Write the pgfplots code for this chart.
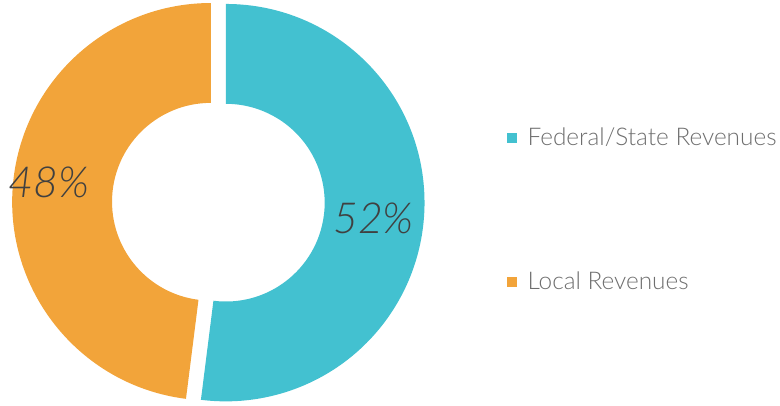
\documentclass[border=0pt]{standalone}
\usepackage{fontspec}
\setmainfont{Lato}[UprightFont={* Light}, ItalicFont={* Light Italic}]
\usepackage{pgfplots}
\usepackage{pgfplotstable}
\pgfplotsset{compat=1.18}
\definecolor{fedc}{HTML}{43C1D0}
\definecolor{locc}{HTML}{F2A43A}
\definecolor{lbl}{HTML}{404040}
\definecolor{leg}{HTML}{6E6E6E}
\pgfplotstableread{
name value
Federal 52
Local 48
}\shares
\begin{document}
\begin{tikzpicture}
\pgfplotstablegetelem{0}{value}\of\shares \let\vA\pgfplotsretval
\pgfplotstablegetelem{1}{value}\of\shares \let\vB\pgfplotsretval
\pgfmathsetmacro\aS{90}
\pgfmathsetmacro\aM{90-3.6*\vA}
\pgfmathsetmacro\aE{\aM-3.6*\vB}
\pgfmathsetmacro\bA{(\aS+\aM)/2}
\pgfmathsetmacro\bB{(\aM+\aE)/2}
\begin{axis}[x=1bp, y=1bp, xmin=0, xmax=780, ymin=0, ymax=404,
  hide axis, clip=false, scale only axis]
\path (axis cs:0,0) (axis cs:780,404);
% Federal/State slice
\fill[fedc, shift={(\bA:7.5bp)}]
  ([shift={(\aS:199bp)}]axis cs:217.5,201.5) arc[start angle=\aS, end angle=\aM, radius=199bp]
  -- ([shift={(\aM:99bp)}]axis cs:217.5,201.5) arc[start angle=\aM, end angle=\aS, radius=99bp] -- cycle;
% Local slice
\fill[locc, shift={(\bB:7.5bp)}]
  ([shift={(\aM:199bp)}]axis cs:217.5,201.5) arc[start angle=\aM, end angle=\aE, radius=199bp]
  -- ([shift={(\aE:99bp)}]axis cs:217.5,201.5) arc[start angle=\aE, end angle=\aM, radius=99bp] -- cycle;
% value labels
\node[text=lbl, font=\fontsize{43}{46}\selectfont\itshape] at (axis cs:373,185) {\vA\%};
\node[text=lbl, font=\fontsize{43}{46}\selectfont\itshape] at (axis cs:48,221) {\vB\%};
% legend
\fill[fedc] (axis cs:507,261) rectangle (axis cs:517,271);
\node[text=leg, anchor=west, font=\fontsize{24.5}{27}\selectfont, inner sep=0pt] at (axis cs:527,267) {Federal/State Revenues};
\fill[locc] (axis cs:507,117) rectangle (axis cs:517,127);
\node[text=leg, anchor=west, font=\fontsize{24.5}{27}\selectfont, inner sep=0pt] at (axis cs:527,123) {Local Revenues};
\end{axis}
\end{tikzpicture}
\end{document}
